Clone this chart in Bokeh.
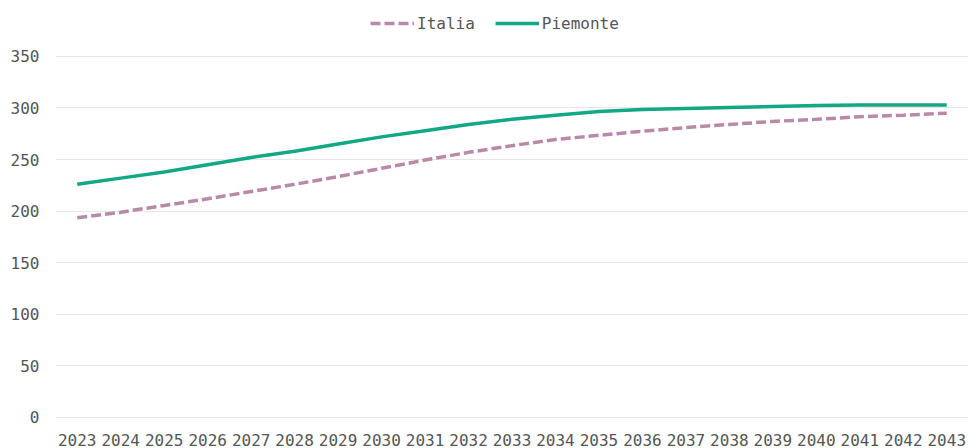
from bokeh.plotting import figure
from bokeh.models import ColumnDataSource, Range1d, FactorRange, Legend, LegendItem, FixedTicker
from bokeh.embed import file_html
from bokeh.resources import INLINE

years = [str(y) for y in range(2023, 2044)]
italia = [193.5, 199, 205.5, 212, 219, 226, 233.5, 241.5, 249.5, 257, 263.5,
          269.5, 273.5, 277.5, 281, 284, 287, 289, 291.5, 293, 295]
piemonte = [226, 232, 238, 245, 252, 258, 265, 272, 278, 284, 289,
            293, 296.5, 298.5, 299.5, 300.5, 301.5, 302.5, 303, 303, 303]
y_ticks = [0, 50, 100, 150, 200, 250, 300, 350]

FONT = "DejaVu Sans Mono"
GREEN = "#12a884"
PINK = "#b98aa8"

src = ColumnDataSource(dict(year=years, italia=italia, piemonte=piemonte))

p = figure(width=968, height=448, x_range=FactorRange(*years), y_range=Range1d(-1, 404.2),
           output_backend="svg", toolbar_location=None,
           min_border_left=55, min_border_right=0, min_border_top=0, min_border_bottom=29)
p.outline_line_color = None
p.background_fill_color = "white"
p.border_fill_color = "white"

r1 = p.line("year", "italia", source=src, line_color=PINK, line_width=3.5, line_dash="10 4")
r2 = p.line("year", "piemonte", source=src, line_color=GREEN, line_width=3.5)

p.xgrid.grid_line_color = None
p.ygrid.grid_line_color = "#e6e6e6"
p.ygrid.grid_line_width = 1
p.yaxis.ticker = FixedTicker(ticks=y_ticks)

for ax in (p.xaxis[0], p.yaxis[0]):
    ax.axis_line_color = None
    ax.major_tick_line_color = None
    ax.minor_tick_line_color = None
    ax.major_label_text_font = FONT
    ax.major_label_text_font_size = "16px"
    ax.major_label_text_color = "#555555"
p.yaxis.major_label_standoff = 10
p.xaxis.major_label_standoff = 9

legend = Legend(items=[LegendItem(label="Italia", renderers=[r1]),
                       LegendItem(label="Piemonte", renderers=[r2])],
                orientation="horizontal", location=(315, 385))
legend.label_text_font = FONT
legend.label_text_font_size = "16px"
legend.label_text_color = "#555555"
legend.glyph_width = 44
legend.glyph_height = 20
legend.label_height = 20
legend.label_standoff = 3
legend.spacing = 20
legend.border_line_color = None
legend.background_fill_alpha = 0
legend.margin = 0
legend.padding = 0
p.add_layout(legend)

open("out.html", "w").write(file_html(p, INLINE))
